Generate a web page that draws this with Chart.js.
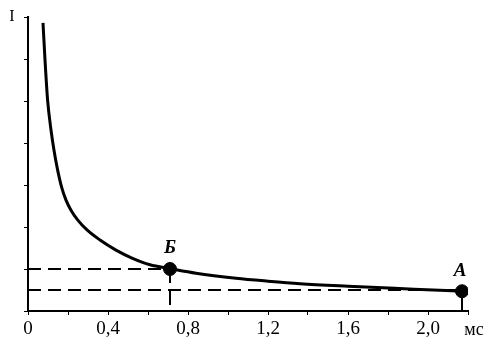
<!DOCTYPE html>
<html lang="ru">
<head>
    <meta charset="UTF-8">
    <title>Кривая сила-длительность</title>
    <script src="https://cdn.jsdelivr.net/npm/chart.js"></script>
    <style>
        body {
            margin: 0;
            background: #fff;
        }
        canvas {
            display: block;
        }
    </style>
</head>
<body>
    <canvas id="sdChart" width="504" height="355"></canvas>

    <script>
        // длительность стимула, мс
        const curveT = [0.075, 0.085, 0.098, 0.115, 0.13, 0.148, 0.168, 0.19, 0.215, 0.248, 0.295, 0.36, 0.44, 0.52, 0.61, 0.71, 0.84, 1.04, 1.20, 1.36, 1.60, 1.93, 2.17];
        // пороговая сила тока
        const curveI = [6.86, 5.98, 5.02, 4.31, 3.83, 3.36, 2.95, 2.64, 2.40, 2.17, 1.93, 1.69, 1.45, 1.26, 1.10, 1.01, 0.90, 0.78, 0.71, 0.65, 0.59, 0.52, 0.47];

        // точки Б (хронаксия) и А (реобаза)
        const pointNames = ['Б', 'А'];
        const pointT = [0.71, 2.17];
        const pointI = [1.0, 0.47];
        const rheobase = 0.5;

        const xTicks = [0, 0.4, 0.8, 1.2, 1.6, 2.0];

        const serif = '"Liberation Serif", "DejaVu Serif", serif';

        const textPlugin = {
            id: 'sdText',
            afterDraw(chart) {
                const ctx = chart.ctx;
                const x = chart.scales.x;
                const y = chart.scales.y;
                ctx.save();
                ctx.fillStyle = '#000';
                ctx.textAlign = 'center';
                ctx.textBaseline = 'middle';
                ctx.font = '16px ' + serif;
                ctx.fillText('I', 12, 17);
                ctx.font = '18px ' + serif;
                ctx.fillText('мс', 474, 330);
                ctx.font = 'italic bold 19px ' + serif;
                ctx.fillText(pointNames[0], x.getPixelForValue(pointT[0]), y.getPixelForValue(pointI[0]) - 21);
                ctx.fillText(pointNames[1], x.getPixelForValue(pointT[1]) - 2, y.getPixelForValue(pointI[1]) - 20);
                ctx.restore();
            }
        };

        const ctx = document.getElementById('sdChart').getContext('2d');
        new Chart(ctx, {
            type: 'line',
            data: {
                datasets: [
                    {
                        data: curveT.map((t, i) => ({ x: t, y: curveI[i] })),
                        borderColor: '#000',
                        borderWidth: 3,
                        pointRadius: 0,
                        cubicInterpolationMode: 'monotone'
                    },
                    {
                        // уровень Б
                        data: [{ x: 0, y: pointI[0] }, { x: pointT[0], y: pointI[0] }],
                        borderColor: '#000',
                        borderWidth: 2,
                        borderDash: [13, 7],
                        pointRadius: 0
                    },
                    {
                        // реобаза
                        data: [{ x: 0, y: rheobase }, { x: pointT[1], y: rheobase }],
                        borderColor: '#000',
                        borderWidth: 2,
                        borderDash: [13, 7],
                        pointRadius: 0
                    },
                    {
                        data: [{ x: pointT[0], y: pointI[0] }, { x: pointT[0], y: 0 }],
                        borderColor: '#000',
                        borderWidth: 2,
                        borderDash: [14, 8],
                        pointRadius: 0
                    },
                    {
                        data: [{ x: pointT[1], y: pointI[1] }, { x: pointT[1], y: 0 }],
                        borderColor: '#000',
                        borderWidth: 2,
                        pointRadius: 0
                    },
                    {
                        data: pointT.map((t, i) => ({ x: t, y: pointI[i] })),
                        showLine: false,
                        pointRadius: 6.5,
                        pointBackgroundColor: '#000',
                        pointBorderColor: '#000'
                    }
                ]
            },
            options: {
                responsive: false,
                animation: false,
                devicePixelRatio: 1,
                layout: {
                    padding: { top: 17, right: 36, left: 0, bottom: 0 }
                },
                scales: {
                    x: {
                        type: 'linear',
                        min: 0,
                        max: 2.2,
                        afterFit(scale) { scale.height = 44; },
                        border: { color: '#000', width: 2 },
                        grid: { drawOnChartArea: false, color: '#000', tickLength: 4 },
                        ticks: {
                            stepSize: 0.2,
                            color: '#000',
                            padding: 3,
                            maxRotation: 0,
                            autoSkip: false,
                            font: { family: serif, size: 19 },
                            callback(value) {
                                const hit = xTicks.find(t => Math.abs(t - value) < 1e-6);
                                if (hit === undefined) return '';
                                return hit === 0 ? '0' : hit.toFixed(1).replace('.', ',');
                            }
                        }
                    },
                    y: {
                        min: 0,
                        max: 7,
                        afterFit(scale) { scale.width = 28; },
                        border: { color: '#000', width: 2 },
                        grid: { drawOnChartArea: false, color: '#000', tickLength: 4 },
                        ticks: { stepSize: 1, display: false }
                    }
                },
                plugins: {
                    legend: { display: false },
                    tooltip: { enabled: false }
                }
            },
            plugins: [textPlugin]
        });
    </script>
</body>
</html>
